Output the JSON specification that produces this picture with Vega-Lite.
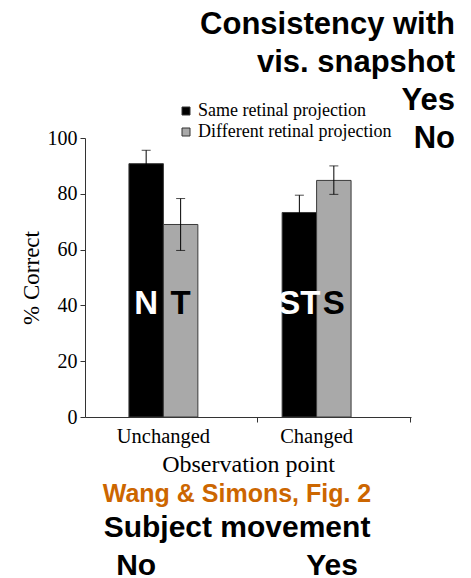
{
  "$schema": "https://vega.github.io/schema/vega-lite/v6.json",
  "background": "white",
  "padding": {"left": 20, "top": 9, "right": 5, "bottom": 5},
  "title": {
    "text": ["Consistency with", "vis. snapshot", "Yes", "No"],
    "anchor": "end",
    "align": "right",
    "font": "Liberation Sans",
    "fontWeight": "bold",
    "fontSize": 31,
    "lineHeight": 38,
    "color": "black",
    "dx": 44,
    "offset": -53
  },
  "config": {
    "view": {"stroke": null},
    "axis": {"grid": false, "domainColor": "#333", "tickColor": "#333", "labelColor": "black", "titleColor": "black", "labelFont": "Liberation Serif", "titleFont": "Liberation Serif", "titleFontWeight": "normal"}
  },
  "vconcat": [
    {
      "width": 326,
      "height": 279,
      "title": {
        "text": "Wang & Simons, Fig. 2",
        "subtitle": ["Subject movement", "No\u00a0\u00a0\u00a0\u00a0\u00a0\u00a0\u00a0\u00a0\u00a0\u00a0\u00a0\u00a0\u00a0\u00a0\u00a0\u00a0\u00a0\u00a0Yes"],
        "orient": "bottom",
        "anchor": "middle",
        "frame": "group",
        "font": "Liberation Sans",
        "fontWeight": "bold",
        "fontSize": 25,
        "color": "#cc6600",
        "subtitleFont": "Liberation Sans",
        "subtitleFontWeight": "bold",
        "subtitleFontSize": 30,
        "subtitleColor": "black",
        "subtitleLineHeight": 38,
        "subtitlePadding": 6,
        "dx": -11,
        "offset": 5
      },
      "data": {
        "values": [
          {"obs": "Unchanged", "proj": "Same retinal projection", "pct": 90.8, "lo": 86.0, "hi": 95.6},
          {"obs": "Unchanged", "proj": "Different retinal projection", "pct": 69.0, "lo": 59.7, "hi": 78.3},
          {"obs": "Changed", "proj": "Same retinal projection", "pct": 73.3, "lo": 67.1, "hi": 79.5},
          {"obs": "Changed", "proj": "Different retinal projection", "pct": 84.8, "lo": 79.8, "hi": 90.0}
        ]
      },
      "encoding": {
        "x": {
          "field": "obs",
          "type": "nominal",
          "sort": ["Unchanged", "Changed"],
          "scale": {"paddingInner": 0.55, "paddingOuter": 0.339, "align": 0.423},
          "axis": {
            "title": "Observation point",
            "labelAngle": 0,
            "labelFontSize": 20.5,
            "titleFontSize": 24,
            "bandPosition": 1.865,
            "labelOffset": 0,
            "tickSize": 5,
            "labelPadding": 4,
            "titlePadding": 6
          }
        },
        "xOffset": {
          "field": "proj",
          "type": "nominal",
          "sort": ["Same retinal projection", "Different retinal projection"],
          "scale": {"paddingInner": 0, "paddingOuter": 0}
        }
      },
      "layer": [
        {
          "mark": {"type": "bar", "stroke": "#3a3a3a", "strokeWidth": 1},
          "encoding": {
            "y": {
              "field": "pct",
              "type": "quantitative",
              "scale": {"domain": [0, 100]},
              "axis": {
                "title": "% Correct",
                "values": [0, 20, 40, 60, 80, 100],
                "labelFontSize": 20,
                "titleFontSize": 23,
                "tickSize": 5,
                "labelPadding": 3,
                "titlePadding": 4
              }
            },
            "color": {
              "field": "proj",
              "type": "nominal",
              "sort": ["Same retinal projection", "Different retinal projection"],
              "scale": {"domain": ["Same retinal projection", "Different retinal projection"], "range": ["black", "#a9a9a9"]},
              "legend": {
                "title": null,
                "orient": "none",
                "legendX": 92,
                "legendY": -36,
                "symbolType": "square",
                "symbolSize": 64,
                "symbolStrokeColor": "#333",
                "symbolStrokeWidth": 1,
                "symbolOpacity": 1,
                "labelFont": "Liberation Serif",
                "labelFontSize": 18,
                "labelColor": "black",
                "labelOffset": 3,
                "labelLimit": 0,
                "rowPadding": 3,
                "padding": 0
              }
            }
          }
        },
        {
          "mark": {"type": "rule", "color": "black", "strokeWidth": 1},
          "encoding": {
            "y": {"field": "lo", "type": "quantitative"},
            "y2": {"field": "hi"}
          }
        },
        {
          "mark": {"type": "tick", "color": "black", "thickness": 1, "size": 9},
          "encoding": {"y": {"field": "lo", "type": "quantitative"}}
        },
        {
          "mark": {"type": "tick", "color": "black", "thickness": 1, "size": 9},
          "encoding": {"y": {"field": "hi", "type": "quantitative"}}
        },
        {
          "data": {
            "values": [
              {"obs": "Unchanged", "proj": "Same retinal projection", "label": "N"},
              {"obs": "Unchanged", "proj": "Different retinal projection", "label": "T"},
              {"obs": "Changed", "proj": "Same retinal projection", "label": "ST"},
              {"obs": "Changed", "proj": "Different retinal projection", "label": "S"}
            ]
          },
          "mark": {"type": "text", "font": "Liberation Sans", "fontWeight": "bold", "fontSize": 33, "baseline": "alphabetic", "align": "center"},
          "encoding": {
            "y": {"datum": 37, "type": "quantitative"},
            "text": {"field": "label"},
            "color": {
              "condition": {"test": "datum.proj === 'Same retinal projection'", "value": "white"},
              "value": "black"
            }
          }
        }
      ]
    }
  ]
}
